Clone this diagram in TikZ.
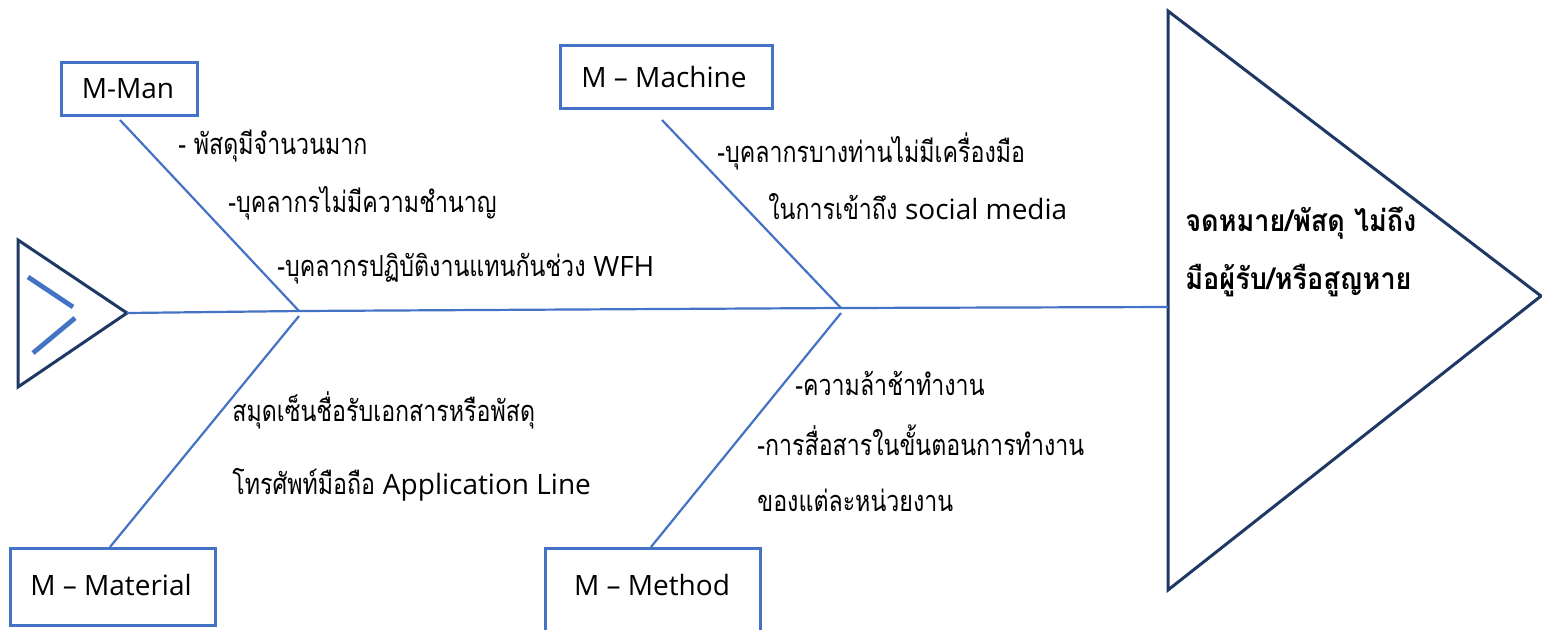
\documentclass[tikz,border=0pt]{standalone}
\usepackage{fontspec}
\setmainfont{Open Sans}
\newfontfamily\thai[Script=Thai, FakeStretch=0.8]{Loma}
\newfontfamily\thaih[Script=Thai, FakeStretch=0.9]{Loma}
\definecolor{boneblue}{HTML}{4472C4}
\definecolor{navy}{HTML}{203864}
\newcommand{\lat}[1]{{\normalfont\fontsize{14}{16}\selectfont #1}}
\tikzset{
  bone/.style={draw=boneblue, line width=1.1pt},
  mbox/.style={draw=boneblue, line width=1.5pt, fill=white, inner sep=0pt},
  boxtext/.style={inner sep=0pt, font=\fontsize{14}{16}\selectfont},
  tri/.style={draw=navy, line width=1.5pt, line join=miter},
  mark2/.style={draw=boneblue, line width=2.4pt},
  lbl/.style={anchor=base west, inner sep=0pt, font=\thai\fontsize{14.5}{16}\selectfont},
  head/.style={anchor=base west, inner sep=0pt, font=\thaih\bfseries\fontsize{15}{17}\selectfont}
}
\begin{document}
\begin{tikzpicture}[x=0.5pt,y=-0.5pt]
\useasboundingbox (0,0) rectangle (1542,629);
\clip (0,0) rectangle (1542,629);
% small tail triangle
\coordinate (tA) at (18,240);
\coordinate (tB) at (18,387);
\coordinate (tail) at (127,313);
\draw[tri] (tA) -- (tail) -- (tB) -- cycle;
\coordinate (k1) at (28,277);
\coordinate (k2) at (73,307);
\coordinate (k3) at (75,318);
\coordinate (k4) at (33,353);
\draw[mark2] (k1) -- (k2);
\draw[mark2] (k3) -- (k4);
% head triangle
\coordinate (hA) at (1168,11);
\coordinate (hB) at (1168,590);
\coordinate (hT) at (1541,296);
\draw[tri] (hA) -- (hT) -- (hB) -- cycle;
\coordinate (hL) at (1168,307);
% spine
\coordinate (j1) at (299,311);
\coordinate (j2) at (841,308);
\draw[bone] (tail) -- (j1) -- (j2) -- (hL);
% boxes
\node[mbox, minimum width=68pt, minimum height=26.5pt] (man) at (129,88.5) {};
\node[boxtext] (mantxt) at (128,89) {M-Man};
\node[mbox, minimum width=106pt, minimum height=31.5pt] (machine) at (666,76.5) {};
\node[boxtext] (machinetxt) at (664,77) {M – Machine};
\node[mbox, minimum width=102.5pt, minimum height=38.5pt] (material) at (112.5,586.5) {};
\node[boxtext] (materialtxt) at (111,585) {M – Material};
\node[mbox, minimum width=107.5pt, minimum height=50pt] (method) at (652.5,598) {};
\node[boxtext] (methodtxt) at (652,585) {M – Method};
% bones
\coordinate (b1) at (120,120);
\coordinate (b2) at (110,547);
\coordinate (b3) at (662,120);
\coordinate (b4) at (651,547);
\coordinate (j1b) at (299,316);
\coordinate (j2b) at (841,313);
\draw[bone] (b1) -- (j1);
\draw[bone] (j1b) -- (b2);
\draw[bone] (b3) -- (j2);
\draw[bone] (j2b) -- (b4);
% texts
\node[lbl] (t1) at (178,154) {- พัสดุมีจำนวนมาก};
\node[lbl] (t2) at (228,212) {-บุคลากรไม่มีความชำนาญ};
\node[lbl] (t3) at (277,276) {-บุคลากรปฏิบัติงานแทนกันช่วง \lat{WFH}};
\node[lbl] (t4) at (717,162) {-บุคลากรบางท่านไม่มีเครื่องมือ};
\node[lbl] (t5) at (768,219) {ในการเข้าถึง \lat{social media}};
\node[lbl] (t6) at (232,421) {สมุดเซ็นชื่อรับเอกสารหรือพัสดุ};
\node[lbl] (t7) at (232,494) {โทรศัพท์มือถือ \lat{Application Line}};
\node[lbl] (t8) at (795,395) {-ความล้าช้าทำงาน};
\node[lbl] (t9) at (757,455) {-การสื่อสารในขั้นตอนการทำงาน};
\node[lbl] (t10) at (757,511) {ของแต่ละหน่วยงาน};
\node[head] (h1) at (1185,231) {จดหมาย/พัสดุ ไม่ถึง};
\node[head] (h2) at (1185,289) {มือผู้รับ/หรือสูญหาย};
\end{tikzpicture}
\end{document}
